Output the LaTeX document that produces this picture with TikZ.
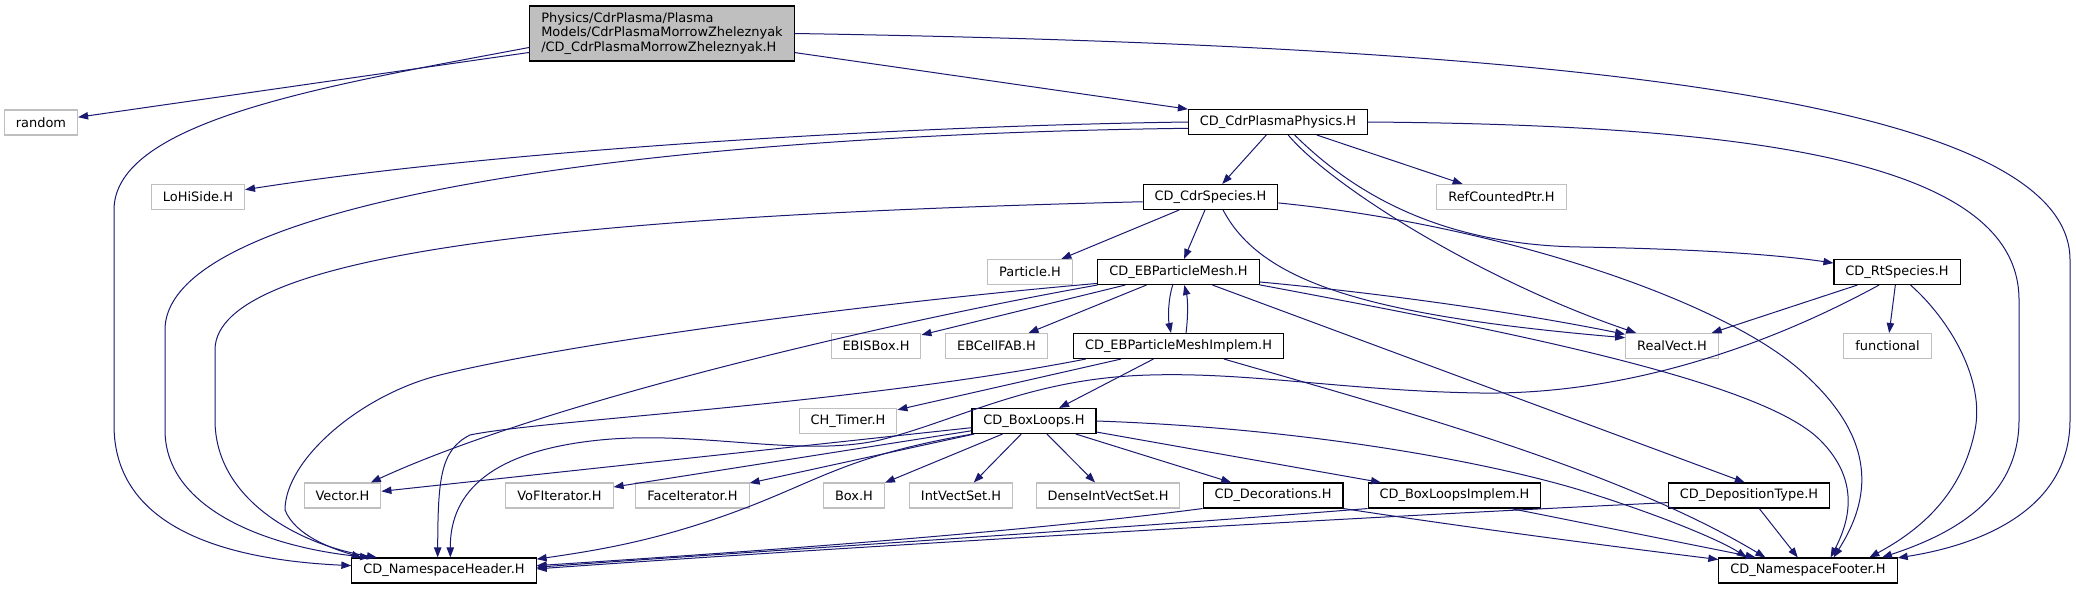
\documentclass[tikz,border=0pt]{standalone}
\usepackage{fontspec}
\setmainfont{DejaVu Sans}
\usetikzlibrary{arrows.meta}
\definecolor{midnightblue}{HTML}{191970}
\tikzset{
	incnode/.style={draw=black,fill=white,line width=0.8pt,inner xsep=8.6pt,inner ysep=0pt,minimum height=18.75pt,font=\fontsize{9.7}{11}\selectfont},
	extnode/.style={incnode,draw=black!25},
	mainnode/.style={incnode,fill=black!25,align=left,minimum height=41.25pt},
	incl/.style={draw=midnightblue,line width=0.75pt,-{Triangle[length=7.5pt,width=5.5pt]}}
}
\begin{document}
\begin{tikzpicture}[x=0.75pt,y=-0.75pt]
	\useasboundingbox (0,0) rectangle (2076,589);
	\node[mainnode] (main) at (662,33.5) {Physics/CdrPlasma/Plasma\\Models/CdrPlasmaMorrowZheleznyak\\/CD\_CdrPlasmaMorrowZheleznyak.H};
	\node[extnode] (random) at (41,122.5) {random};
	\node[extnode] (lohiside) at (198,197) {LoHiSide.H};
	\node[incnode] (phys) at (1278,122) {CD\_CdrPlasmaPhysics.H};
	\node[extnode] (refptr) at (1501.5,197) {RefCountedPtr.H};
	\node[incnode] (cdrsp) at (1210.5,197) {CD\_CdrSpecies.H};
	\node[extnode] (particle) at (1030,272) {Particle.H};
	\node[incnode] (ebpm) at (1178.5,272) {CD\_EBParticleMesh.H};
	\node[incnode] (rtsp) at (1897,272) {CD\_RtSpecies.H};
	\node[extnode] (ebisbox) at (876,346) {EBISBox.H};
	\node[extnode] (ebcellfab) at (996.5,346) {EBCellFAB.H};
	\node[incnode] (ebpmi) at (1178.5,346) {CD\_EBParticleMeshImplem.H};
	\node[extnode] (realvect) at (1672,346) {RealVect.H};
	\node[extnode] (functional) at (1887.5,346) {functional};
	\node[extnode] (chtimer) at (848,421) {CH\_Timer.H};
	\node[incnode] (boxloops) at (1034,421) {CD\_BoxLoops.H};
	\node[extnode] (vector) at (342.5,495.5) {Vector.H};
	\node[extnode] (vofit) at (559.5,495.5) {VoFIterator.H};
	\node[extnode] (faceit) at (692.5,495.5) {FaceIterator.H};
	\node[extnode] (box) at (854,495.5) {Box.H};
	\node[extnode] (ivs) at (961,495.5) {IntVectSet.H};
	\node[extnode] (divs) at (1108,495.5) {DenseIntVectSet.H};
	\node[incnode] (deco) at (1273,495.5) {CD\_Decorations.H};
	\node[incnode] (bli) at (1454.5,495.5) {CD\_BoxLoopsImplem.H};
	\node[incnode] (deptype) at (1749,495.5) {CD\_DepositionType.H};
	\node[incnode] (nsh) at (444,570.5) {CD\_NamespaceHeader.H};
	\node[incnode] (nsf) at (1808,570.5) {CD\_NamespaceFooter.H};
	\draw[incl] (main) -- (random);
	\draw[incl] (main.186) .. controls (330,85) and (114,120) .. (114,210) -- (114,425) .. controls (114,530) and (230,560) .. (nsh.177);
	\draw[incl] (main) -- (phys);
	\draw[incl] (main.east) .. controls (1500,45) and (2070,90) .. (2070,260) -- (2070,420) .. controls (2070,510) and (1980,545) .. (nsf.8);
	\draw[incl] (phys.west) .. controls (900,126) and (500,150) .. (lohiside);
	\draw[incl] (phys.184) .. controls (650,135) and (165,200) .. (165,330) -- (165,430) .. controls (165,510) and (270,548) .. (nsh.170);
	\draw[incl] (phys) -- (cdrsp);
	\draw[incl] (phys) -- (refptr);
	\draw[incl] (phys.308) .. controls (1330,185) and (1480,280) .. (realvect.160);
	\draw[incl] (phys.322) .. controls (1360,200) and (1450,245) .. (1580,247) .. controls (1700,249) and (1780,255) .. (rtsp.172);
	\draw[incl] (phys.east) .. controls (1750,125) and (2019,160) .. (2019,300) -- (2019,420) .. controls (2019,500) and (1950,535) .. (nsf.10);
	\draw[incl] (cdrsp.184) .. controls (600,215) and (215,250) .. (215,350) -- (215,420) .. controls (215,500) and (300,545) .. (nsh.169);
	\draw[incl] (cdrsp) -- (particle);
	\draw[incl] (cdrsp) -- (ebpm);
	\draw[incl] (cdrsp.314) .. controls (1260,280) and (1360,315) .. (realvect.170);
	\draw[incl] (cdrsp.355) .. controls (1500,225) and (1720,300) .. (1800,370) .. controls (1880,440) and (1870,500) .. (nsf.27);
	\draw[incl] (ebpm.south west) .. controls (900,320) and (550,400) .. (vector);
	\draw[incl] (ebpm.188) .. controls (850,305) and (560,345) .. (440,375) .. controls (360,395) and (285,460) .. (285,510) .. controls (295,535) and (330,548) .. (nsh.171);
	\draw[incl] (ebpm) -- (ebisbox);
	\draw[incl] (ebpm) -- (ebcellfab);
	\draw[incl] (ebpm.246) .. controls (1168,300) and (1168,318) .. (ebpmi.120);
	\draw[incl] (ebpmi.60) .. controls (1188,318) and (1188,300) .. (ebpm.294);
	\draw[incl] (ebpm.353) .. controls (1400,295) and (1530,315) .. (realvect.166);
	\draw[incl] (ebpm.351) .. controls (1500,330) and (1760,380) .. (1820,440) .. controls (1860,480) and (1850,520) .. (nsf.30);
	\draw[incl] (ebpm.339) -- (deptype.108);
	\draw[incl] (ebpmi) -- (chtimer);
	\draw[incl] (ebpmi) -- (boxloops);
	\draw[incl] (ebpmi.188) .. controls (850,405) and (540,420) .. (470,435) .. controls (440,450) and (438,480) .. (nsh.116);
	\draw[incl] (ebpmi.344) .. controls (1400,410) and (1620,470) .. (nsf.163);
	\draw[incl] (boxloops) -- (vector);
	\draw[incl] (boxloops) -- (vofit);
	\draw[incl] (boxloops) -- (faceit);
	\draw[incl] (boxloops) -- (box);
	\draw[incl] (boxloops) -- (ivs);
	\draw[incl] (boxloops) -- (divs);
	\draw[incl] (boxloops) -- (deco);
	\draw[incl] (boxloops) -- (bli);
	\draw[incl] (boxloops.192) .. controls (850,455) and (820,480) .. (740,510) .. controls (660,540) and (600,550) .. (nsh.7);
	\draw[incl] (boxloops.east) .. controls (1300,428) and (1480,460) .. (1580,490) .. controls (1660,515) and (1720,540) .. (nsf.168);
	\draw[incl] (deco.south west) .. controls (1000,535) and (700,555) .. (nsh.3);
	\draw[incl] (deco.south east) .. controls (1450,525) and (1600,545) .. (nsf.173);
	\draw[incl] (bli.south west) .. controls (1100,530) and (700,555) .. (nsh.2);
	\draw[incl] (bli.347) -- (nsf.166);
	\draw[incl] (deptype.185) .. controls (1300,520) and (800,550) .. (nsh.1);
	\draw[incl] (deptype) -- (nsf);
	\draw[incl] (rtsp) -- (realvect);
	\draw[incl] (rtsp) -- (functional);
	\draw[incl] (rtsp.216) .. controls (1760,350) and (1620,395) .. (1480,393) .. controls (1350,391) and (1250,372) .. (1150,375) .. controls (1030,378) and (960,420) .. (880,440) .. controls (800,458) and (700,430) .. (600,440) .. controls (480,452) and (450,500) .. (nsh.64);
	\draw[incl] (rtsp.316) .. controls (1950,320) and (1985,380) .. (1975,430) .. controls (1962,495) and (1920,530) .. (nsf.12);
\end{tikzpicture}
\end{document}
